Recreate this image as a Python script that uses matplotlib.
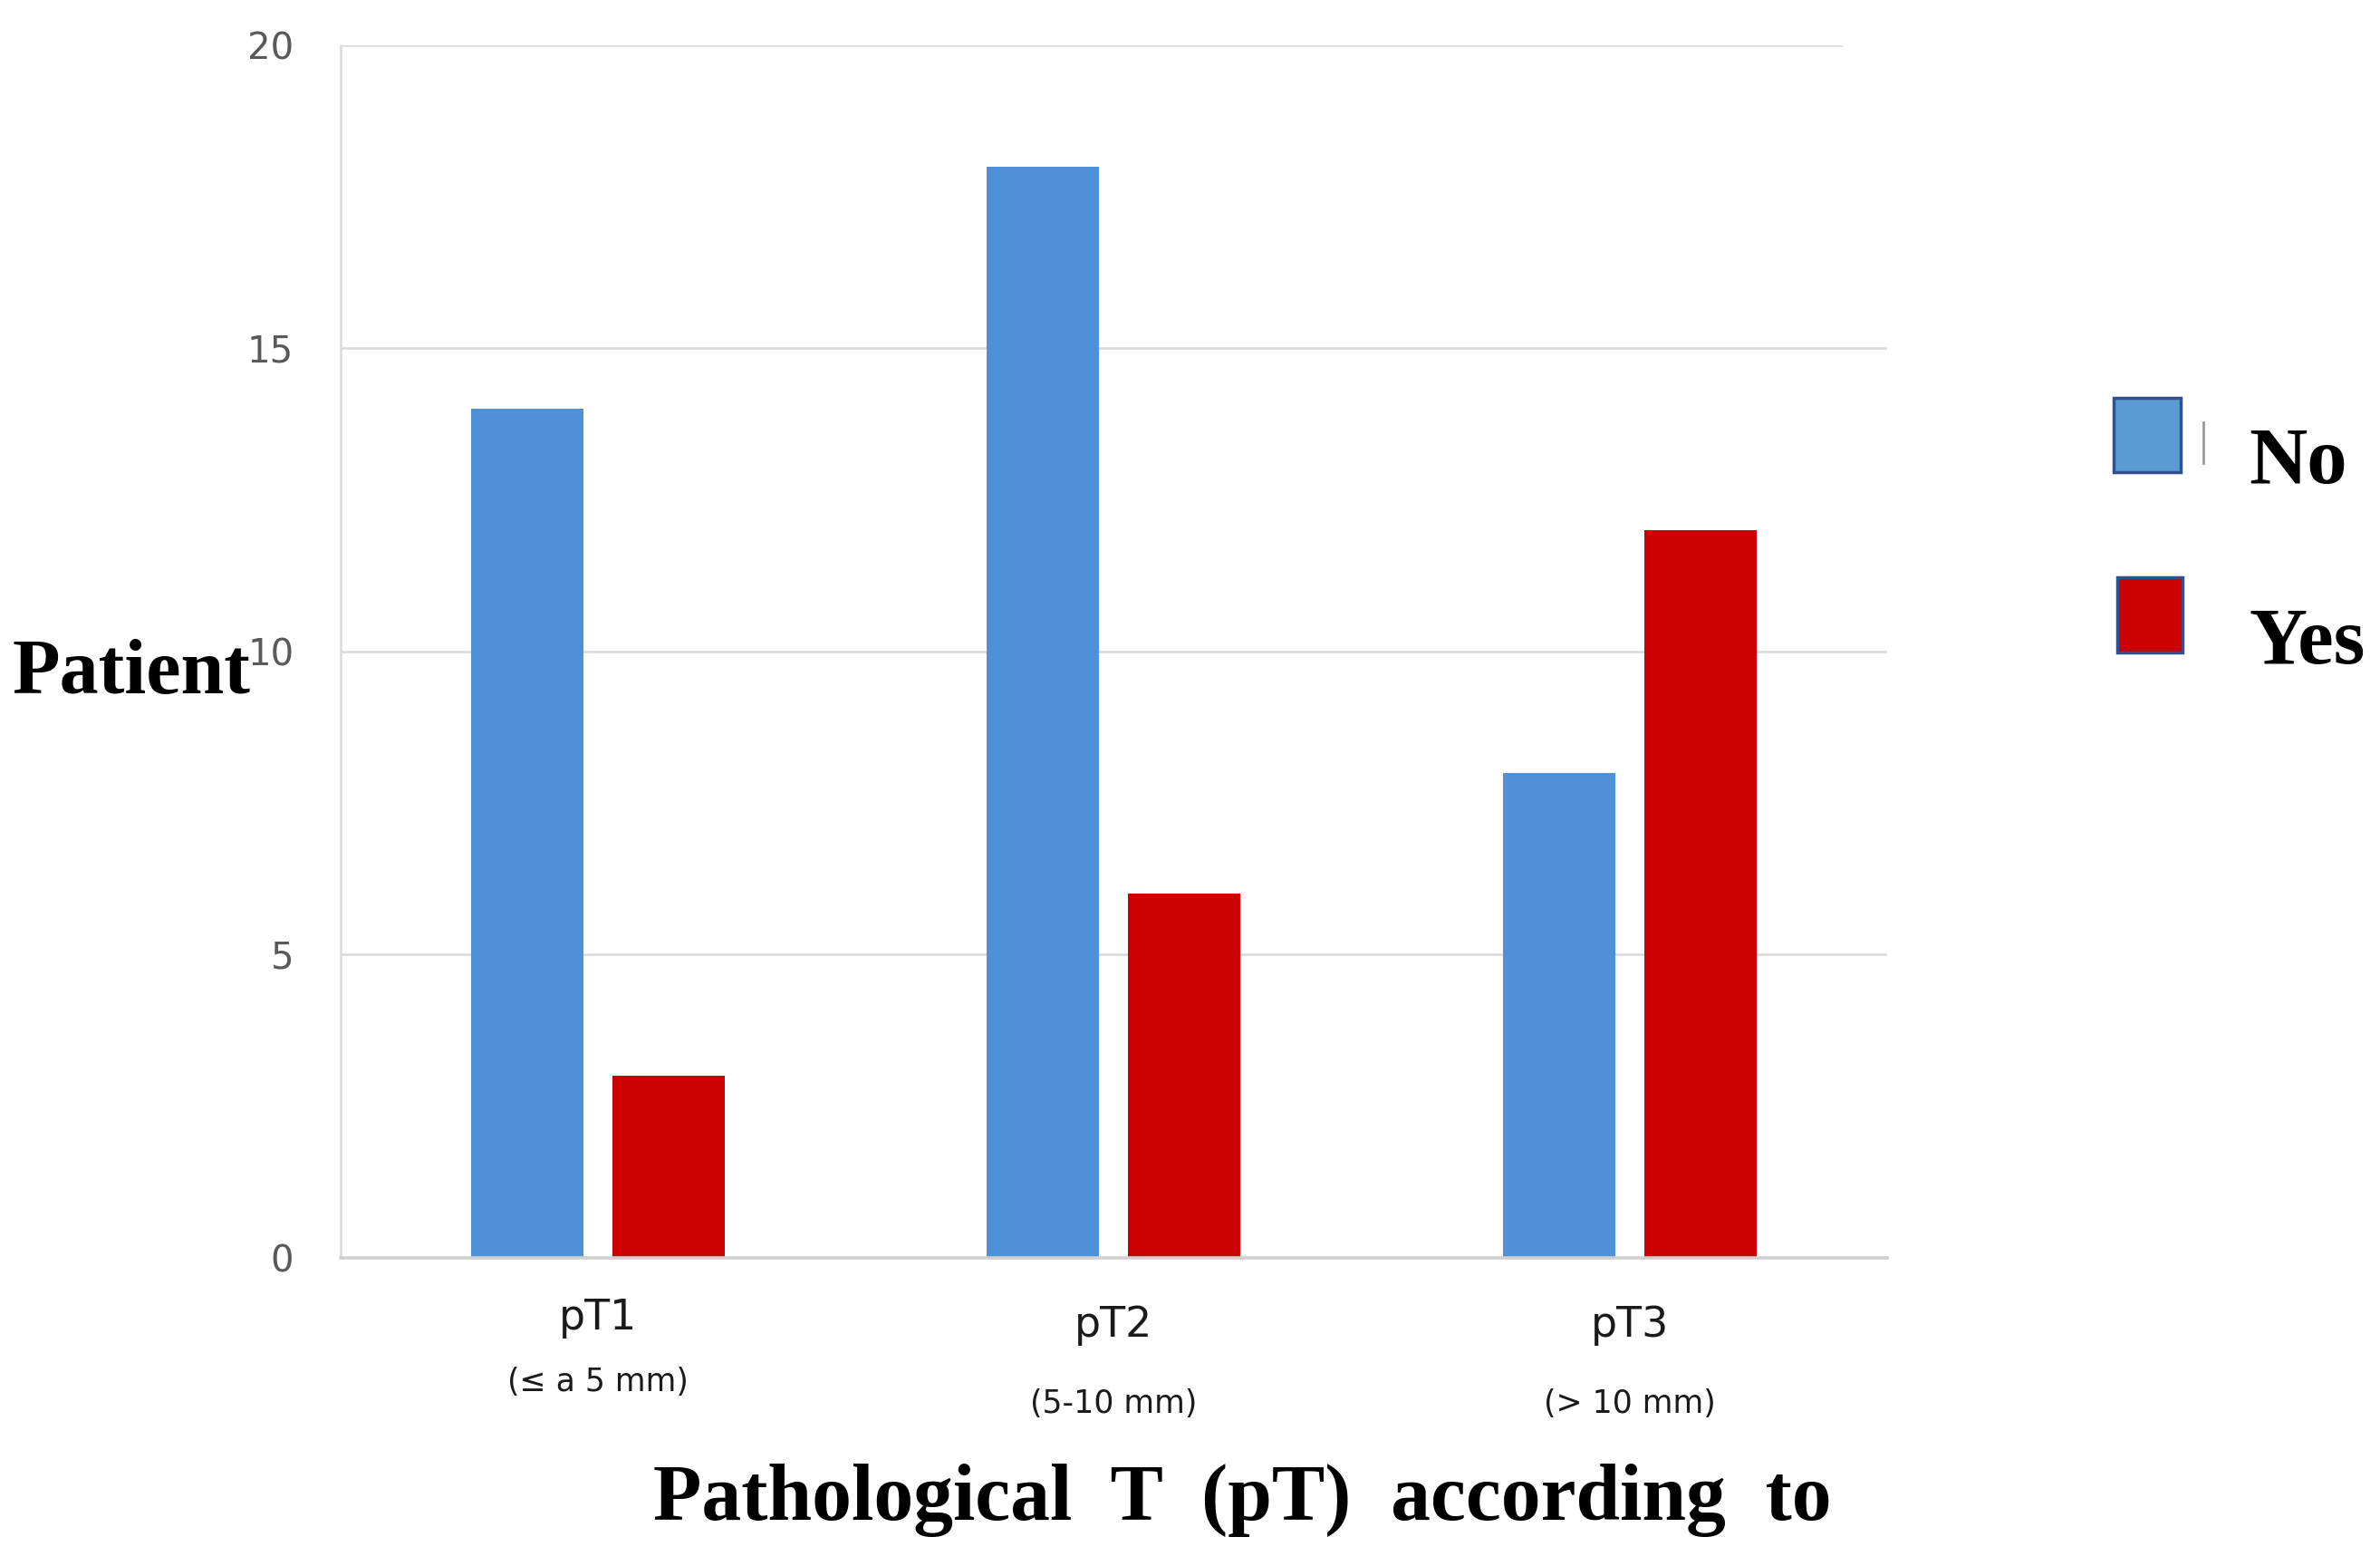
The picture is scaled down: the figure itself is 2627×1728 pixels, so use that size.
import matplotlib.pyplot as plt
from matplotlib.patches import Rectangle
import numpy as np

# data
stages = ['pT1', 'pT2', 'pT3']
sizes = ['(≤ a 5 mm)', '(5-10 mm)', '(> 10 mm)']
no_counts = [14, 18, 8]
yes_counts = [3, 6, 12]
y_ticks = [0, 5, 10, 15, 20]

blue = '#4e91d8'
red = '#cc0000'
grid_col = '#d9d9d9'

narrow = ['Liberation Sans Narrow', 'DejaVu Sans']
serif = ['Liberation Serif', 'DejaVu Serif']

fig = plt.figure(figsize=(26.27, 17.28), dpi=100)
ax = fig.add_axes([0.143, 0.197, 0.650, 0.774])

x = np.arange(len(stages))
w = 0.218
off = 0.137
ax.bar(x - off, no_counts, w, color=blue, zorder=3)
ax.bar(x + off, yes_counts, w, color=red, zorder=3)

ax.set_xlim(-0.5, 2.5)
ax.set_ylim(0, 20)

# gridlines (the top one stops a bit short)
for t in y_ticks[1:]:
    xmax = 0.97 if t == y_ticks[-1] else 1.0
    ax.axhline(t, xmin=0, xmax=xmax, color=grid_col, lw=1.8, zorder=1)

for s in ['top', 'right']:
    ax.spines[s].set_visible(False)
ax.spines['left'].set_color(grid_col)
ax.spines['left'].set_linewidth(1.8)
ax.spines['bottom'].set_color('#d0d0d0')
ax.spines['bottom'].set_linewidth(2.6)
ax.spines['bottom'].set_zorder(4)

ax.set_yticks(y_ticks)
ax.tick_params(axis='y', length=0, pad=37, labelsize=29, labelcolor='#595959')
ax.set_xticks([])

# category labels, two lines each
trans = ax.get_xaxis_transform()
top_y = [-0.050, -0.056, -0.056]
sub_y = [-0.103, -0.121, -0.121]
for i in range(len(stages)):
    ax.text(x[i], top_y[i], stages[i], transform=trans, ha='center', va='center',
            fontsize=33, family=narrow, color='#1a1a1a')
    ax.text(x[i], sub_y[i], sizes[i], transform=trans, ha='center', va='center',
            fontsize=25, family=narrow, color='#1a1a1a')

# axis titles
fig.text(0.005, 0.569, 'Patient', fontsize=62, fontweight='bold', family=serif,
         ha='left', va='center')
fig.text(0.522, 0.042, 'Pathological  T  (pT)  according  to', fontsize=63,
         fontweight='bold', family=serif, ha='center', va='center')

# legend
fig.patches.append(Rectangle((2333 / 2627, 1 - 521 / 1728), 74 / 2627, 82 / 1728,
                             transform=fig.transFigure, facecolor='#5b9bd5',
                             edgecolor='#2f528f', lw=2.5))
fig.patches.append(Rectangle((2337 / 2627, 1 - 720 / 1728), 72 / 2627, 83 / 1728,
                             transform=fig.transFigure, facecolor=red,
                             edgecolor='#2f528f', lw=2.5))
fig.lines.append(plt.Line2D([2432 / 2627, 2432 / 2627], [1 - 466 / 1728, 1 - 511 / 1728],
                            transform=fig.transFigure, color='#999999', lw=2))
fig.text(2482 / 2627, 1 - 533 / 1728, 'No', fontsize=64, fontweight='bold',
         family=serif, ha='left', va='baseline')
fig.text(2482 / 2627, 1 - 732 / 1728, 'Yes', fontsize=64, fontweight='bold',
         family=serif, ha='left', va='baseline')

plt.savefig('out.png', dpi=100)
